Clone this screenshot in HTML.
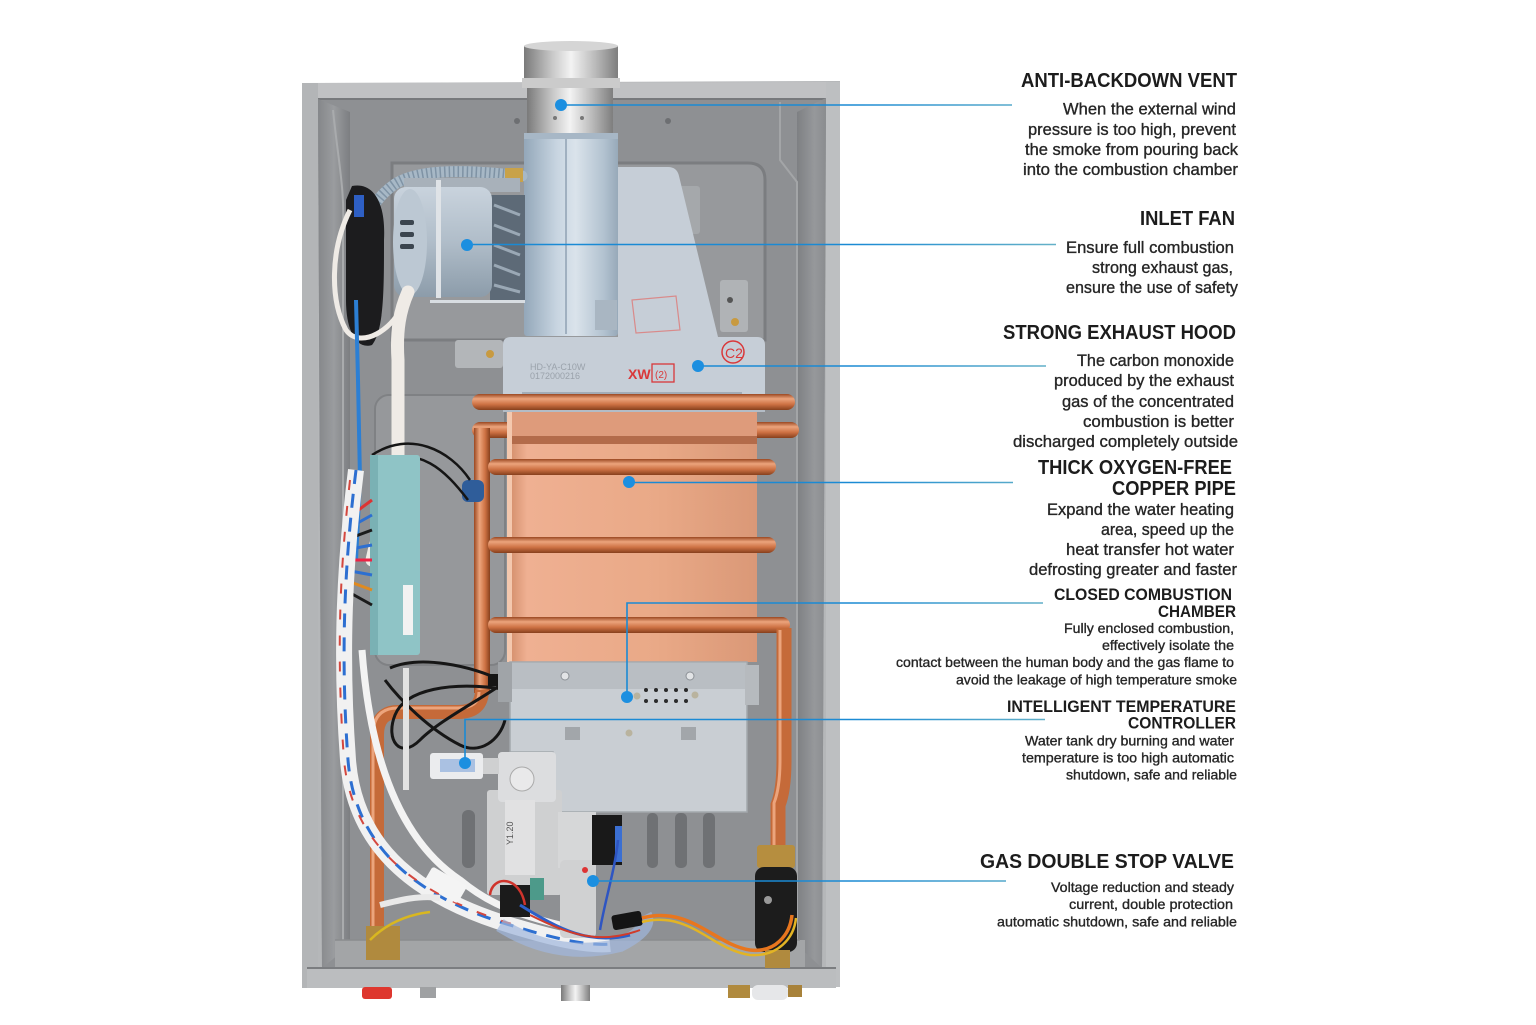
<!DOCTYPE html>
<html><head><meta charset="utf-8">
<style>
html,body{margin:0;padding:0;background:#fff;}
svg{display:block;}
.t{font-family:"Liberation Sans",sans-serif;font-weight:bold;fill:#1c1c1c;}
.b{font-family:"Liberation Sans",sans-serif;fill:#262626;stroke:#262626;stroke-width:0.35;}
</style></head><body>
<svg width="1536" height="1025" viewBox="0 0 1536 1025" xmlns="http://www.w3.org/2000/svg">
<defs>
<linearGradient id="chim" x1="0" y1="0" x2="1" y2="0">
<stop offset="0" stop-color="#7a7a7a"/><stop offset="0.3" stop-color="#c8c8c8"/><stop offset="0.5" stop-color="#f3f3f3"/><stop offset="0.75" stop-color="#bcbcbc"/><stop offset="1" stop-color="#7e7e7e"/></linearGradient>
<linearGradient id="blow" x1="0" y1="0" x2="1" y2="0">
<stop offset="0" stop-color="#93a7b9"/><stop offset="0.35" stop-color="#c8d5e1"/><stop offset="0.55" stop-color="#dae3eb"/><stop offset="0.85" stop-color="#b2c2d0"/><stop offset="1" stop-color="#97a9b9"/></linearGradient>
<linearGradient id="motor" x1="0" y1="0" x2="0" y2="1">
<stop offset="0" stop-color="#c9d3dd"/><stop offset="0.5" stop-color="#b0bdc9"/><stop offset="1" stop-color="#8c9caa"/></linearGradient>
<linearGradient id="cop" x1="0" y1="0" x2="1" y2="0">
<stop offset="0" stop-color="#cf8966"/><stop offset="0.08" stop-color="#efb092"/><stop offset="0.6" stop-color="#e9a987"/><stop offset="1" stop-color="#da9877"/></linearGradient>
<linearGradient id="pipeH" x1="0" y1="0" x2="0" y2="1">
<stop offset="0" stop-color="#9a4822"/><stop offset="0.3" stop-color="#eca47c"/><stop offset="0.65" stop-color="#cd7143"/><stop offset="1" stop-color="#87401d"/></linearGradient>
<linearGradient id="pipeV" x1="0" y1="0" x2="1" y2="0">
<stop offset="0" stop-color="#9a4822"/><stop offset="0.35" stop-color="#eca47c"/><stop offset="0.7" stop-color="#cd7143"/><stop offset="1" stop-color="#87401d"/></linearGradient>
<linearGradient id="lwall" x1="0" y1="0" x2="1" y2="0">
<stop offset="0" stop-color="#85878a"/><stop offset="0.5" stop-color="#9a9c9f"/><stop offset="1" stop-color="#7c7e81"/></linearGradient>
<linearGradient id="rwall" x1="0" y1="0" x2="1" y2="0">
<stop offset="0" stop-color="#7e8083"/><stop offset="0.6" stop-color="#96989b"/><stop offset="1" stop-color="#8a8c8f"/></linearGradient>
<linearGradient id="lead" gradientUnits="userSpaceOnUse" x1="850" y1="0" x2="1050" y2="0">
<stop offset="0" stop-color="#1a8ad4"/><stop offset="1" stop-color="#63b0c8"/></linearGradient>
</defs>

<rect width="1536" height="1025" fill="#fff"/>

<!-- ===== housing ===== -->
<polygon points="302,83 840,81 836,988 307,988" fill="#b5b7b9"/>
<polygon points="318,99 826,98 822,968 322,968" fill="#8e9093"/>
<polygon points="318,83 826,82 826,99 318,99" fill="#c0c1c3"/>
<line x1="318" y1="99" x2="826" y2="99" stroke="#77797c" stroke-width="2"/>
<polygon points="318,99 350,112 350,945 322,968" fill="url(#lwall)"/>
<path d="M333,110 C338,160 345,190 343,230 L343,940" stroke="#a9abad" stroke-width="2" fill="none"/>
<polygon points="826,98 797,112 797,945 822,968" fill="url(#rwall)"/>
<path d="M780,102 L780,160 L797,182 L797,950" stroke="#a3a5a7" stroke-width="2" fill="none"/>
<rect x="826" y="82" width="14" height="905" fill="#bdbfc1"/>
<rect x="302" y="83" width="16" height="905" fill="#b3b5b7"/>
<path d="M392,163 L748,163 Q765,163 765,180 L765,340 L392,340 Z" fill="#97999c" stroke="#7b7d80" stroke-width="3"/>
<rect x="375" y="395" width="130" height="270" rx="14" fill="#96989b" stroke="#7f8184" stroke-width="2"/>
<rect x="335" y="940" width="470" height="28" fill="#a3a5a7"/>
<line x1="335" y1="940" x2="800" y2="940" stroke="#8a8c8e" stroke-width="1.5"/>
<polygon points="307,968 836,968 836,988 307,988" fill="#bbbdbf"/>
<line x1="307" y1="968" x2="836" y2="968" stroke="#7b7d80" stroke-width="2"/>
<rect x="362" y="987" width="30" height="12" rx="3" fill="#de372e"/>
<rect x="420" y="987" width="16" height="11" fill="#9fa1a3"/>
<rect x="561" y="985" width="29" height="16" fill="url(#chim)"/>
<rect x="728" y="985" width="22" height="13" fill="#b08a3e"/>
<rect x="752" y="985" width="36" height="15" rx="6" fill="#e6e7e9"/>
<rect x="788" y="985" width="14" height="12" fill="#a8823a"/>

<rect x="455" y="340" width="48" height="28" rx="3" fill="#b3b6b9"/>
<circle cx="490" cy="354" r="4" fill="#c89a40"/>
<rect x="720" y="280" width="28" height="52" rx="3" fill="#b0b3b6"/>
<circle cx="735" cy="322" r="4" fill="#c89a40"/>
<circle cx="730" cy="300" r="3" fill="#555"/>
<rect x="678" y="186" width="22" height="48" rx="3" fill="#a5a8ab"/>
<circle cx="517" cy="121" r="3" fill="#6d6f72"/>
<circle cx="668" cy="121" r="3" fill="#6d6f72"/>

<!-- ===== vent / chimney ===== -->
<rect x="524" y="46" width="94" height="34" fill="url(#chim)"/>
<ellipse cx="571" cy="46" rx="47" ry="5" fill="#d5d5d5"/>
<rect x="522" y="78" width="98" height="10" fill="#cbcbcb"/>
<rect x="527" y="88" width="86" height="48" fill="url(#chim)"/>
<circle cx="555" cy="118" r="2" fill="#777"/><circle cx="582" cy="118" r="2" fill="#777"/>

<path d="M511,337 L618,337 L618,167 L668,167 Q677,167 679,176 L718,337 L757,337 Q765,337 765,345 L765,412 L503,412 L503,345 Q503,337 511,337 Z" fill="#c6ced7"/>
<line x1="522" y1="393" x2="742" y2="393" stroke="#97a1ab" stroke-width="1.5"/>
<line x1="522" y1="398" x2="742" y2="398" stroke="#a8b1ba" stroke-width="1"/>
<rect x="503" y="404" width="262" height="8" fill="#b3bcc6"/>
<path d="M632,300 L676,296 L680,330 L636,333 Z" fill="none" stroke="#d98a8a" stroke-width="1.2"/>
<text x="628" y="379" font-family="Liberation Sans,sans-serif" font-size="14" font-weight="bold" fill="#d9383a">XW</text>
<rect x="652" y="364" width="22" height="18" fill="none" stroke="#d9383a" stroke-width="1.3"/>
<text x="655" y="378" font-family="Liberation Sans,sans-serif" font-size="10" fill="#d9383a">(2)</text>
<circle cx="733" cy="352" r="11" fill="none" stroke="#d9383a" stroke-width="1.5"/>
<text x="725" y="358" font-family="Liberation Sans,sans-serif" font-size="14" fill="#d9383a">C2</text>
<text x="530" y="370" font-family="Liberation Sans,sans-serif" font-size="9" fill="#9aa2ab">HD-YA-C10W</text>
<text x="530" y="379" font-family="Liberation Sans,sans-serif" font-size="9" fill="#9aa2ab">0172000216</text>

<rect x="524" y="133" width="94" height="203" rx="3" fill="url(#blow)"/>
<line x1="566" y1="136" x2="566" y2="334" stroke="#8fa2b3" stroke-width="1.5"/>
<rect x="524" y="133" width="94" height="6" fill="#a7b7c6"/>
<rect x="595" y="300" width="22" height="30" fill="#a9b6c2"/>

<path d="M522,176 C470,170 420,168 395,184 C366,204 354,240 357,282 L362,312" stroke="#a7b8c6" stroke-width="11" fill="none" stroke-linecap="round"/>
<path d="M522,176 C470,170 420,168 395,184 C366,204 354,240 357,282 L362,312" stroke="#7f93a5" stroke-width="11" fill="none" stroke-dasharray="1.5 3"/>
<rect x="505" y="168" width="18" height="14" fill="#c8a24a"/>

<path d="M352,186 C372,182 386,200 384,240 C384,290 384,330 372,345 C356,350 346,330 346,300 L346,200 Z" fill="#1c1c1e"/>
<rect x="354" y="195" width="10" height="22" fill="#2e5fc4"/>
<path d="M350,210 C330,250 330,300 346,330 C360,350 395,330 405,300" stroke="#efebe6" stroke-width="5" fill="none"/>

<rect x="490" y="195" width="35" height="105" fill="#5d6a77"/>
<g stroke="#9aa8b5" stroke-width="3">
<line x1="494" y1="205" x2="520" y2="215"/><line x1="494" y1="225" x2="520" y2="235"/><line x1="494" y1="245" x2="520" y2="255"/><line x1="494" y1="265" x2="520" y2="275"/><line x1="494" y1="285" x2="520" y2="292"/></g>
<rect x="404" y="178" width="116" height="14" fill="#a8b1ba"/>
<rect x="394" y="187" width="98" height="110" rx="12" fill="url(#motor)"/>
<ellipse cx="410" cy="242" rx="17" ry="53" fill="#bcc8d3"/>
<rect x="400" y="220" width="14" height="5" rx="2" fill="#3c4650"/>
<rect x="400" y="232" width="14" height="5" rx="2" fill="#3c4650"/>
<rect x="400" y="244" width="14" height="5" rx="2" fill="#3c4650"/>
<rect x="436" y="180" width="5" height="118" fill="#dfe3e7"/>
<rect x="430" y="300" width="95" height="3" fill="#d8dde2"/>
<path d="M408,292 C400,310 396,330 398,360 L398,460 C396,500 380,520 372,560" stroke="#efebe6" stroke-width="13" fill="none" stroke-linecap="round"/>
<path d="M356,300 L358,380 L360,480 L356,560" stroke="#2c7fd4" stroke-width="4" fill="none"/>

<!-- ===== copper ===== -->
<rect x="472" y="394" width="323" height="16" rx="8" fill="url(#pipeH)"/>
<rect x="472" y="422" width="327" height="16" rx="8" fill="url(#pipeH)"/>
<rect x="474" y="428" width="16" height="265" fill="url(#pipeV)"/>
<rect x="507" y="412" width="250" height="250" fill="url(#cop)"/>
<rect x="507" y="412" width="250" height="24" fill="#de9b7b"/>
<rect x="507" y="436" width="250" height="8" fill="#b36b4a"/>
<rect x="507" y="412" width="5" height="250" fill="#f4c8ae"/>
<rect x="488" y="459" width="288" height="16" rx="8" fill="url(#pipeH)"/>
<rect x="488" y="537" width="288" height="16" rx="8" fill="url(#pipeH)"/>
<rect x="488" y="617" width="302" height="16" rx="8" fill="url(#pipeH)"/>
<path d="M784,628 L784,760 Q784,790 778,805 L778,850" stroke="#c56a39" stroke-width="15" fill="none"/>
<path d="M780,630 L780,760 Q780,788 774,803 L774,850" stroke="#eca47c" stroke-width="3" fill="none"/>
<path d="M482,690 Q482,712 458,712 L398,712 Q377,712 377,735 L377,932" stroke="#c56a39" stroke-width="14" fill="none"/>
<path d="M479,692 Q479,708 458,708 L398,708 Q373,708 373,735 L373,932" stroke="#eca47c" stroke-width="3" fill="none"/>
<rect x="366" y="926" width="34" height="34" fill="#b08a3e"/>

<rect x="462" y="480" width="22" height="22" rx="6" fill="#2f5d9a"/>
<path d="M372,455 C410,430 450,450 470,480" stroke="#151515" stroke-width="2.5" fill="none"/>
<path d="M378,462 C420,445 445,470 468,500" stroke="#151515" stroke-width="2.5" fill="none"/>

<rect x="370" y="455" width="50" height="200" rx="3" fill="#8fc4c6"/>
<rect x="370" y="455" width="8" height="200" fill="#7ab1b4"/>
<rect x="403" y="585" width="10" height="50" fill="#f2f2f2"/>
<g stroke-width="3" fill="none">
<path d="M345,520 L372,500" stroke="#d33"/><path d="M345,530 L372,515" stroke="#2d6fd1"/>
<path d="M345,540 L372,530" stroke="#1b1b1b"/><path d="M345,550 L372,545" stroke="#2d6fd1"/>
<path d="M345,560 L372,560" stroke="#e24"/><path d="M345,570 L372,575" stroke="#2d6fd1"/>
<path d="M345,580 L372,590" stroke="#e08a20"/><path d="M345,590 L372,605" stroke="#1b1b1b"/>
</g>

<path d="M356,470 C345,560 340,650 348,760 C355,850 420,900 520,928 C560,940 590,946 610,944" stroke="#f1f1f1" stroke-width="16" fill="none"/>
<path d="M356,470 C345,560 340,650 348,760 C355,850 420,900 520,928 C560,940 590,946 610,944" stroke="#2d6fd1" stroke-width="3" fill="none" stroke-dasharray="14 10"/>
<path d="M350,480 C340,570 336,650 344,760 C352,845 415,895 515,925" stroke="#d4473e" stroke-width="2" fill="none" stroke-dasharray="10 16"/>
<path d="M362,650 C370,760 400,840 460,880 C490,905 520,915 560,925" stroke="#f3f3f3" stroke-width="7" fill="none"/>
<rect x="425" y="875" width="40" height="20" rx="3" fill="#f4f4f4" transform="rotate(30 445 885)"/>
<path d="M380,905 C400,900 420,895 440,898" stroke="#e9e9e9" stroke-width="6" fill="none"/>
<path d="M370,940 C385,925 405,915 430,912" stroke="#d9b720" stroke-width="2.5" fill="none"/>

<path d="M390,668 C420,655 470,665 505,682 C480,700 440,720 420,740 C400,760 385,740 395,715 C405,690 450,680 510,690" stroke="#161616" stroke-width="3" fill="none"/>
<path d="M385,680 C400,700 430,730 460,745 C480,755 500,740 505,720" stroke="#161616" stroke-width="3" fill="none"/>
<rect x="488" y="674" width="22" height="12" fill="#151515"/>
<rect x="403" y="668" width="6" height="122" fill="#e2e2e2"/>

<!-- ===== combustion chamber ===== -->
<path d="M510,662 L747,662 L747,812 L553,812 L553,752 L510,752 Z" fill="#c9ced3" stroke="#a3a8ad" stroke-width="1.5"/>
<rect x="511" y="663" width="235" height="26" fill="#b9bec3"/>
<circle cx="565" cy="676" r="4" fill="#e2e4e6" stroke="#8c9196"/>
<circle cx="690" cy="676" r="4" fill="#e2e4e6" stroke="#8c9196"/>
<g fill="#2a2a2a">
<circle cx="646" cy="690" r="2"/><circle cx="656" cy="690" r="2"/><circle cx="666" cy="690" r="2"/><circle cx="676" cy="690" r="2"/><circle cx="686" cy="690" r="2"/>
<circle cx="646" cy="701" r="2"/><circle cx="656" cy="701" r="2"/><circle cx="666" cy="701" r="2"/><circle cx="676" cy="701" r="2"/><circle cx="686" cy="701" r="2"/></g>
<circle cx="637" cy="696" r="3.5" fill="#b9b39e"/><circle cx="695" cy="695" r="3.5" fill="#b9b39e"/>
<rect x="565" y="727" width="15" height="13" fill="#a2a6aa"/>
<rect x="681" y="727" width="15" height="13" fill="#a2a6aa"/>
<circle cx="629" cy="733" r="3.5" fill="#b9b39e"/>
<rect x="745" y="665" width="14" height="40" fill="#b6babe"/>
<rect x="498" y="662" width="14" height="40" fill="#a0a4a8"/>

<g fill="#6f7174">
<rect x="462" y="810" width="13" height="58" rx="6"/>
<rect x="647" y="813" width="11" height="55" rx="5"/>
<rect x="675" y="813" width="12" height="55" rx="5"/>
<rect x="703" y="813" width="12" height="55" rx="5"/>
</g>

<rect x="487" y="790" width="75" height="105" rx="3" fill="#cfd0d1"/>
<rect x="498" y="752" width="58" height="50" rx="4" fill="#dcdddf"/>
<circle cx="522" cy="779" r="12" fill="#e9e9ea" stroke="#aaa"/>
<rect x="505" y="800" width="30" height="75" fill="#e1e1e2"/>
<text transform="translate(513,845) rotate(-90)" font-family="Liberation Sans,sans-serif" font-size="9" fill="#555">Y1.20</text>
<rect x="558" y="812" width="38" height="56" fill="#d6d7d8"/>
<rect x="560" y="860" width="36" height="78" rx="5" fill="#d0d1d2"/>
<rect x="592" y="815" width="30" height="50" fill="#191919"/>
<rect x="615" y="826" width="7" height="36" fill="#3b6fd2"/>
<path d="M618,840 C615,870 605,900 600,930" stroke="#2e55c2" stroke-width="2.5" fill="none"/>
<rect x="500" y="885" width="30" height="32" fill="#1b1b1b"/>
<rect x="530" y="878" width="14" height="22" fill="#4d9a8a"/>
<path d="M490,895 C492,875 520,875 525,905" stroke="#d0342c" stroke-width="2.5" fill="none"/>
<circle cx="585" cy="870" r="3" fill="#d33"/>
<rect x="430" y="753" width="53" height="26" rx="3" fill="#ebecee"/>
<rect x="440" y="759" width="35" height="13" fill="#aac1e2"/>
<rect x="483" y="758" width="16" height="16" fill="#cfd0d1"/>
<path d="M500,925 C540,950 580,955 620,945 C640,935 650,925 645,915" stroke="#9fb6dd" stroke-width="14" fill="none" opacity="0.7"/>
<path d="M520,905 C560,930 590,945 630,935" stroke="#2d5fc8" stroke-width="3" fill="none"/>
<path d="M530,915 C570,935 600,945 640,930" stroke="#d03b2b" stroke-width="2" fill="none"/>

<rect x="757" y="845" width="38" height="23" rx="3" fill="#b68e3f"/>
<rect x="755" y="867" width="42" height="85" rx="9" fill="#1c1c1c"/>
<circle cx="768" cy="900" r="4" fill="#999"/>
<rect x="765" y="950" width="25" height="18" fill="#b08a3e"/>
<rect x="612" y="913" width="30" height="15" rx="3" fill="#141414" transform="rotate(-10 627 920)"/>
<path d="M642,918 C690,905 715,945 750,950 C775,953 790,935 792,915" stroke="#e8761e" stroke-width="3.5" fill="none"/>
<path d="M642,922 C690,910 712,950 750,955 C778,957 794,938 796,918" stroke="#e3b424" stroke-width="2.5" fill="none"/>

<!-- ===== leader lines ===== -->
<g stroke="url(#lead)" stroke-width="1.6" fill="none">
<line x1="561" y1="105" x2="1012" y2="105"/>
<line x1="467" y1="244.5" x2="1056" y2="244.5"/>
<line x1="698" y1="366" x2="1046" y2="366"/>
<line x1="629" y1="482.5" x2="1013" y2="482.5"/>
<polyline points="627,697 627,603 1043,603"/>
<polyline points="465,763 465,719.5 1045,719.5"/>
<line x1="593" y1="881" x2="1006" y2="881"/>
</g>
<g fill="#1c8fe0">
<circle cx="561" cy="105" r="6"/>
<circle cx="467" cy="245" r="6"/>
<circle cx="698" cy="366" r="6"/>
<circle cx="629" cy="482" r="6"/>
<circle cx="627" cy="697" r="6"/>
<circle cx="465" cy="763" r="6"/>
<circle cx="593" cy="881" r="6"/>
</g>

<!-- ===== labels ===== -->
<g class="t" font-size="20">
<text x="1021" y="87" textLength="216" lengthAdjust="spacingAndGlyphs">ANTI-BACKDOWN VENT</text>
<text x="1140" y="225" textLength="95" lengthAdjust="spacingAndGlyphs">INLET FAN</text>
<text x="1003" y="339" textLength="233" lengthAdjust="spacingAndGlyphs">STRONG EXHAUST HOOD</text>
<text x="1038" y="474" textLength="194" lengthAdjust="spacingAndGlyphs">THICK OXYGEN-FREE</text>
<text x="1112" y="495" textLength="124" lengthAdjust="spacingAndGlyphs">COPPER PIPE</text>
<text x="980" y="868" textLength="254" lengthAdjust="spacingAndGlyphs">GAS DOUBLE STOP VALVE</text>
</g>
<g class="t" font-size="17">
<text x="1054" y="600" textLength="178" lengthAdjust="spacingAndGlyphs">CLOSED COMBUSTION</text>
<text x="1158" y="617" textLength="78" lengthAdjust="spacingAndGlyphs">CHAMBER</text>
<text x="1007" y="712" textLength="229" lengthAdjust="spacingAndGlyphs">INTELLIGENT TEMPERATURE</text>
<text x="1128" y="728.5" textLength="108" lengthAdjust="spacingAndGlyphs">CONTROLLER</text>
</g>
<g class="b" font-size="16.5">
<text x="1063" y="114.5" textLength="173" lengthAdjust="spacingAndGlyphs">When the external wind</text>
<text x="1028" y="135" textLength="208" lengthAdjust="spacingAndGlyphs">pressure is too high, prevent</text>
<text x="1025" y="155" textLength="213" lengthAdjust="spacingAndGlyphs">the smoke from pouring back</text>
<text x="1023" y="175" textLength="215" lengthAdjust="spacingAndGlyphs">into the combustion chamber</text>
<text x="1066" y="253" textLength="168" lengthAdjust="spacingAndGlyphs">Ensure full combustion</text>
<text x="1092" y="273" textLength="141" lengthAdjust="spacingAndGlyphs">strong exhaust gas,</text>
<text x="1066" y="293" textLength="172" lengthAdjust="spacingAndGlyphs">ensure the use of safety</text>
<text x="1077" y="366" textLength="157" lengthAdjust="spacingAndGlyphs">The carbon monoxide</text>
<text x="1054" y="386" textLength="180" lengthAdjust="spacingAndGlyphs">produced by the exhaust</text>
<text x="1062" y="407" textLength="172" lengthAdjust="spacingAndGlyphs">gas of the concentrated</text>
<text x="1083" y="427" textLength="151" lengthAdjust="spacingAndGlyphs">combustion is better</text>
<text x="1013" y="447" textLength="225" lengthAdjust="spacingAndGlyphs">discharged completely outside</text>
<text x="1047" y="515" textLength="187" lengthAdjust="spacingAndGlyphs">Expand the water heating</text>
<text x="1101" y="535" textLength="133" lengthAdjust="spacingAndGlyphs">area, speed up the</text>
<text x="1066" y="555" textLength="168" lengthAdjust="spacingAndGlyphs">heat transfer hot water</text>
<text x="1029" y="575" textLength="208" lengthAdjust="spacingAndGlyphs">defrosting greater and faster</text>
</g>
<g class="b" font-size="14">
<text x="1064" y="633" textLength="170" lengthAdjust="spacingAndGlyphs">Fully enclosed combustion,</text>
<text x="1102" y="650" textLength="132" lengthAdjust="spacingAndGlyphs">effectively isolate the</text>
<text x="896" y="667" textLength="338" lengthAdjust="spacingAndGlyphs">contact between the human body and the gas flame to</text>
<text x="956" y="684.5" textLength="281" lengthAdjust="spacingAndGlyphs">avoid the leakage of high temperature smoke</text>
<text x="1025" y="745.5" textLength="209" lengthAdjust="spacingAndGlyphs">Water tank dry burning and water</text>
<text x="1022" y="762.5" textLength="212" lengthAdjust="spacingAndGlyphs">temperature is too high automatic</text>
<text x="1066" y="779.5" textLength="171" lengthAdjust="spacingAndGlyphs">shutdown, safe and reliable</text>
<text x="1051" y="892" textLength="183" lengthAdjust="spacingAndGlyphs">Voltage reduction and steady</text>
<text x="1069" y="909" textLength="164" lengthAdjust="spacingAndGlyphs">current, double protection</text>
<text x="997" y="926.5" textLength="240" lengthAdjust="spacingAndGlyphs">automatic shutdown, safe and reliable</text>
</g>
</svg>
</body></html>
